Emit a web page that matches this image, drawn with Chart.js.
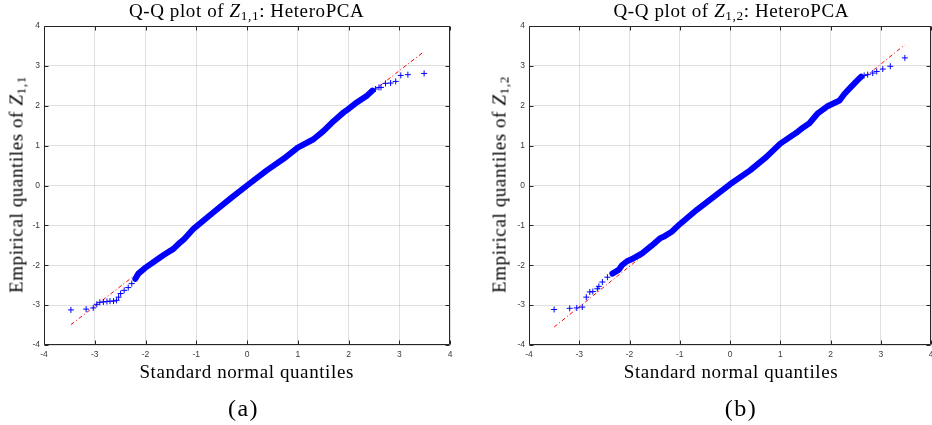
<!DOCTYPE html>
<html>
<head>
<meta charset="utf-8">
<script src="https://cdn.jsdelivr.net/npm/chart.js@4.4.0/dist/chart.umd.min.js"></script>
<style>
  html, body { margin: 0; padding: 0; background: #fff; }
  #wrap { position: relative; width: 932px; height: 425px; overflow: hidden; }
  canvas { position: absolute; top: 0; }
  #chartA { left: 0; }
  #chartB { left: 466px; }
  .lbl { position: absolute; font-family: "Liberation Serif", "Times New Roman", serif; color: #000;
         white-space: nowrap; text-align: center; line-height: 1; width: 400px; }
  .lbl sub { font-size: 0.7em; vertical-align: -0.25em; line-height: 0; font-style: normal; }
  .t { font-size: 19px; letter-spacing: 0.6px; }
  .cap { font-size: 24px; letter-spacing: 1.5px; }
  .rot { transform: rotate(-90deg); }
</style>
</head>
<body>
<div id="wrap">
  <canvas id="chartA" width="466" height="370"></canvas>
  <canvas id="chartB" width="470" height="370"></canvas>

  <div class="lbl t" style="left:46.7px; top:0.8px;">Q-Q plot of <i>Z</i><sub>1,1</sub>: HeteroPCA</div>
  <div class="lbl t" style="left:46.7px; top:361.8px;">Standard normal quantiles</div>
  <div class="lbl t rot" style="left:-184.4px; top:174.5px;">Empirical quantiles of <i>Z</i><sub>1,1</sub></div>
  <div class="lbl cap" style="left:43.5px; top:395.9px;">(a)</div>

  <div class="lbl t" style="left:531.3px; top:0.8px;">Q-Q plot of <i>Z</i><sub>1,2</sub>: HeteroPCA</div>
  <div class="lbl t" style="left:531px; top:361.8px;">Standard normal quantiles</div>
  <div class="lbl t rot" style="left:298.6px; top:174.5px;">Empirical quantiles of <i>Z</i><sub>1,2</sub></div>
  <div class="lbl cap" style="left:541px; top:395.9px;">(b)</div>
</div>

<script>
// Axis range shared by both panels.
var axisMin = -4;
var axisMax = 4;

// (a) Z_{1,1}: red reference line end points.
var refXA = [-3.47, 3.47];
var refYA = [-3.49, 3.34];

// (a) dense middle of the sample (drawn as a thick band).
var bodyXA = [-2.20, -2.14, -2.00, -1.84, -1.65, -1.45, -1.32, -1.25, -1.05, -0.66, -0.33, 0.00, 0.39, 0.72, 1.00, 1.31, 1.51, 1.71, 1.91, 2.00, 2.17, 2.37, 2.47];
var bodyYA = [-2.34, -2.21, -2.06, -1.92, -1.75, -1.59, -1.43, -1.36, -1.08, -0.67, -0.33, 0.00, 0.38, 0.67, 0.95, 1.16, 1.37, 1.62, 1.84, 1.92, 2.09, 2.26, 2.38];

// (a) single "+" markers in the tails.
var tailXA = [-3.47, -3.17, -3.03, -2.96, -2.90, -2.83, -2.76, -2.70, -2.63, -2.57, -2.53, -2.49, -2.42, -2.34, -2.27,
              2.53, 2.60, 2.64, 2.73, 2.83, 2.93, 3.03, 3.17, 3.49];
var tailYA = [-3.12, -3.10, -3.07, -2.98, -2.93, -2.92, -2.91, -2.90, -2.90, -2.88, -2.80, -2.71, -2.63, -2.56, -2.46,
              2.42, 2.46, 2.46, 2.56, 2.57, 2.61, 2.76, 2.78, 2.81];

// (b) Z_{1,2}
var refXB = [-3.50, 3.48];
var refYB = [-3.55, 3.53];

var bodyXB = [-2.34, -2.21, -2.15, -2.05, -1.96, -1.75, -1.56, -1.39, -1.30, -1.16, -1.00, -0.66, -0.33, 0.00, 0.40, 0.72, 1.00, 1.32, 1.45, 1.58, 1.74, 1.93, 2.18, 2.28, 2.40, 2.53, 2.61];
var bodyYB = [-2.21, -2.11, -2.00, -1.90, -1.85, -1.70, -1.51, -1.32, -1.27, -1.16, -0.97, -0.61, -0.29, 0.03, 0.38, 0.71, 1.05, 1.32, 1.45, 1.56, 1.80, 1.98, 2.13, 2.30, 2.46, 2.63, 2.73];

var tailXB = [-3.50, -3.19, -3.05, -2.94, -2.86, -2.79, -2.73, -2.64, -2.61, -2.54, -2.44,
              2.67, 2.74, 2.84, 2.92, 3.04, 3.19, 3.48];
var tailYB = [-3.11, -3.08, -3.07, -3.05, -2.80, -2.67, -2.66, -2.59, -2.53, -2.42, -2.30,
              2.76, 2.78, 2.82, 2.86, 2.92, 2.99, 3.20];

// Pair up x and y lists into {x, y} points for Chart.js.
function toPoints(xs, ys) {
  var pts = [];
  for (var i = 0; i < xs.length; i++) {
    pts.push({ x: xs[i], y: ys[i] });
  }
  return pts;
}

// Draws the MATLAB style box with inward tick marks on all four sides.
var boxPlugin = {
  id: "matlabBox",
  afterDraw: function (chart) {
    var a = chart.chartArea;
    var ctx = chart.ctx;
    var xs = chart.scales.x;
    var ys = chart.scales.y;
    var L = Math.round(a.left) + 0.5, R = Math.round(a.right) - 0.5;
    var T = Math.round(a.top) + 0.5, B = Math.round(a.bottom) - 0.5;
    ctx.save();
    ctx.strokeStyle = "#262626";
    ctx.lineWidth = 1;
    ctx.beginPath();
    xs.ticks.forEach(function (t) {
      var px = Math.round(xs.getPixelForValue(t.value)) + 0.5;
      ctx.moveTo(px, B); ctx.lineTo(px, B - 4);
      ctx.moveTo(px, T); ctx.lineTo(px, T + 4);
    });
    ys.ticks.forEach(function (t) {
      var py = Math.round(ys.getPixelForValue(t.value)) + 0.5;
      ctx.moveTo(L, py); ctx.lineTo(L + 4, py);
      ctx.moveTo(R, py); ctx.lineTo(R - 4, py);
    });
    ctx.rect(L, T, R - L, B - T);
    ctx.stroke();
    ctx.restore();
  }
};

function makeChart(id, yWidth, padRight, refX, refY, bodyX, bodyY, tailX, tailY) {
  var tickFont = { family: "'Liberation Sans', Arial, sans-serif", size: 8.5 };
  var gridColor = "rgba(38,38,38,0.15)";
  return new Chart(document.getElementById(id), {
    type: "scatter",
    data: {
      datasets: [
        {
          data: toPoints(refX, refY),
          showLine: true,
          borderColor: "#ff0000",
          borderWidth: 1,
          borderDash: [4, 2.5, 1, 2.5],
          pointRadius: 0,
          order: 3
        },
        {
          data: toPoints(bodyX, bodyY),
          showLine: true,
          borderColor: "#0000ff",
          borderWidth: 6,
          borderJoinStyle: "round",
          borderCapStyle: "round",
          pointRadius: 0,
          order: 2
        },
        {
          data: toPoints(tailX, tailY),
          showLine: false,
          pointStyle: "cross",
          pointRadius: 3,
          pointBorderWidth: 1,
          pointBorderColor: "#0000ff",
          order: 1
        }
      ]
    },
    options: {
      responsive: false,
      animation: false,
      devicePixelRatio: 1,
      layout: { padding: { top: 26, right: padRight, left: 0, bottom: 0 } },
      plugins: { legend: { display: false }, tooltip: { enabled: false } },
      scales: {
        x: {
          type: "linear", min: axisMin, max: axisMax,
          grid: { color: gridColor, drawTicks: false },
          border: { display: false },
          ticks: { stepSize: 1, font: tickFont, color: "#3a3a3a", padding: 5, maxRotation: 0 },
          afterFit: function (s) { s.height = 25; s.paddingLeft = 0; s.paddingRight = 0; }
        },
        y: {
          type: "linear", min: axisMin, max: axisMax,
          grid: { color: gridColor, drawTicks: false },
          border: { display: false },
          ticks: { stepSize: 1, font: tickFont, color: "#3a3a3a", padding: 4 },
          afterFit: function (s) { s.width = yWidth; s.paddingTop = 0; s.paddingBottom = 0; }
        }
      }
    },
    plugins: [boxPlugin]
  });
}

var chartA = makeChart("chartA", 44, 16, refXA, refYA, bodyXA, bodyYA, tailXA, tailYA);
var chartB = makeChart("chartB", 63, 3, refXB, refYB, bodyXB, bodyYB, tailXB, tailYB);
</script>
</body>
</html>
